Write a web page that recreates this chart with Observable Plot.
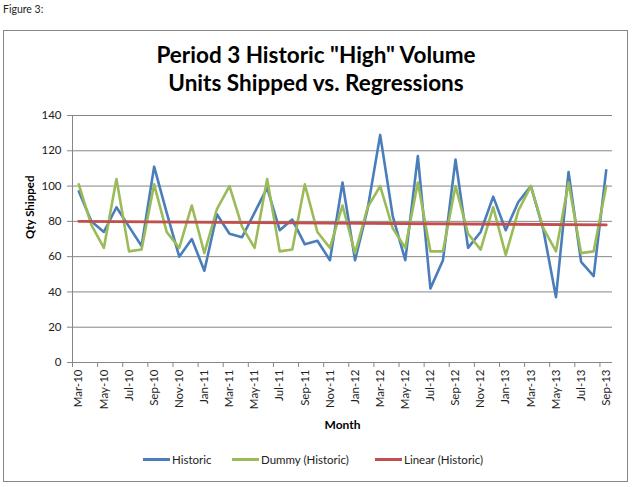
<!DOCTYPE html>
<html>
<head>
<meta charset="utf-8">
<script src="https://cdn.jsdelivr.net/npm/d3@7"></script>
<script src="https://cdn.jsdelivr.net/npm/@observablehq/plot@0.6"></script>
<style>
  html, body { margin: 0; padding: 0; background: #fff; }
  body { width: 632px; height: 487px; position: relative; overflow: hidden; font-family: Lato, "Open Sans", sans-serif; color: #000; }
  #fig { position: absolute; left: 3px; top: 3px; font-size: 10.5px; color: #222; }
  #box { position: absolute; left: 3px; top: 30px; width: 625px; height: 452px; box-sizing: border-box; border: 1px solid #868686; }
  .title { position: absolute; left: 0; width: 632px; text-align: center; font-weight: bold; font-size: 22.5px; white-space: nowrap; }
  #plot { position: absolute; left: 0; top: 105px; }
  #legend { position: absolute; top: 453px; left: 0; width: 632px; font-size: 11.5px; color: #222; }
  .li { position: absolute; top: 0; display: flex; align-items: center; white-space: nowrap; }
  .sw { width: 27px; height: 2.5px; margin-right: 2px; }
</style>
</head>
<body>
<div id="fig">Figure 3:</div>
<div id="box"></div>
<div class="title" style="top:41px">Period 3 Historic "High" Volume</div>
<div class="title" style="top:69px">Units Shipped vs. Regressions</div>
<div id="plot"></div>
<div id="legend"></div>
<script>
const months = ["Mar-10","Apr-10","May-10","Jun-10","Jul-10","Aug-10","Sep-10","Oct-10","Nov-10","Dec-10","Jan-11","Feb-11",
  "Mar-11","Apr-11","May-11","Jun-11","Jul-11","Aug-11","Sep-11","Oct-11","Nov-11","Dec-11","Jan-12","Feb-12",
  "Mar-12","Apr-12","May-12","Jun-12","Jul-12","Aug-12","Sep-12","Oct-12","Nov-12","Dec-12","Jan-13","Feb-13",
  "Mar-13","Apr-13","May-13","Jun-13","Jul-13","Aug-13","Sep-13"];
const historic = [97,80,74,88,77,66,111,85,60,70,52,84,
  73,71,85,99,75,81,67,69,58,102,58,87,
  129,83,58,117,42,58,115,65,74,94,75,91,
  100,75,37,108,57,49,109];
const dummy = [101,78,65,104,63,64,101,74,65,89,62,87,
  100,77,65,104,63,64,101,74,65,89,62,88,
  100,76,65,102,63,63,100,73,64,88,61,86,
  100,76,63,102,62,63,100];
const linearEnds = [80.0, 78.0];
const yTicks = [0,20,40,60,80,100,120,140];
const seriesNames = ["Historic","Dummy (Historic)","Linear (Historic)"];
const colors = ["#4A7EBB","#9BBB59","#C0504D"];

const rowsH = historic.map((v,i)=>({i, v}));
const rowsD = dummy.map((v,i)=>({i, v}));
const rowsL = [{i:0, v:linearEnds[0]}, {i:months.length-1, v:linearEnds[1]}];
const labelIdx = months.map((m,i)=>i).filter(i=>i%2===0);
const boundIdx = months.map((m,i)=>i-0.5).filter((b,k)=>k%2===0);

const chart = Plot.plot({
  width: 632, height: 335,
  marginLeft: 72, marginRight: 20, marginTop: 10, marginBottom: 78,
  style: {fontFamily: "Lato, 'Open Sans', sans-serif", fontSize: "11px", color: "#222", background: "transparent"},
  x: {type: "linear", domain: [-0.5, months.length-0.5]},
  y: {domain: [0,140]},
  marks: [
    Plot.gridY(yTicks.slice(1), {stroke: "#868686", strokeOpacity: 1, strokeWidth: 1}),
    Plot.axisY({ticks: yTicks, tickSize: 5, tickPadding: 6, stroke: "#868686", label: null, fontSize: 11.5}),
    Plot.axisX({ticks: boundIdx, tickSize: 5, tickFormat: () => "", stroke: "#868686", label: null}),
    Plot.axisX({ticks: labelIdx, tickSize: 0, tickRotate: -90, tickPadding: 7, tickFormat: i => months[i], label: null, fontSize: 11.5}),
    Plot.ruleX([-0.5], {stroke: "#868686"}),
    Plot.ruleY([0], {stroke: "#868686"}),
    Plot.line(rowsH, {x: "i", y: "v", stroke: colors[0], strokeWidth: 2.6}),
    Plot.line(rowsD, {x: "i", y: "v", stroke: colors[1], strokeWidth: 2.6}),
    Plot.line(rowsL, {x: "i", y: "v", stroke: colors[2], strokeWidth: 2.8}),
    Plot.text(["Month"], {frameAnchor: "bottom", dy: 63, lineAnchor: "middle", fontWeight: "bold", fontSize: 12, fill: "#000"}),
    Plot.text(["Qty Shipped"], {frameAnchor: "left", dx: -42, rotate: -90, fontWeight: "bold", fontSize: 11.5, fill: "#000"})
  ]
});
document.getElementById("plot").appendChild(chart);

const legend = document.getElementById("legend");
const lefts = [143, 232, 375];
seriesNames.forEach((n,k)=>{
  const d = document.createElement("div");
  d.className = "li";
  d.style.left = lefts[k] + "px";
  d.innerHTML = `<span class="sw" style="background:${colors[k]}"></span><span>${n}</span>`;
  legend.appendChild(d);
});
</script>
</body>
</html>
